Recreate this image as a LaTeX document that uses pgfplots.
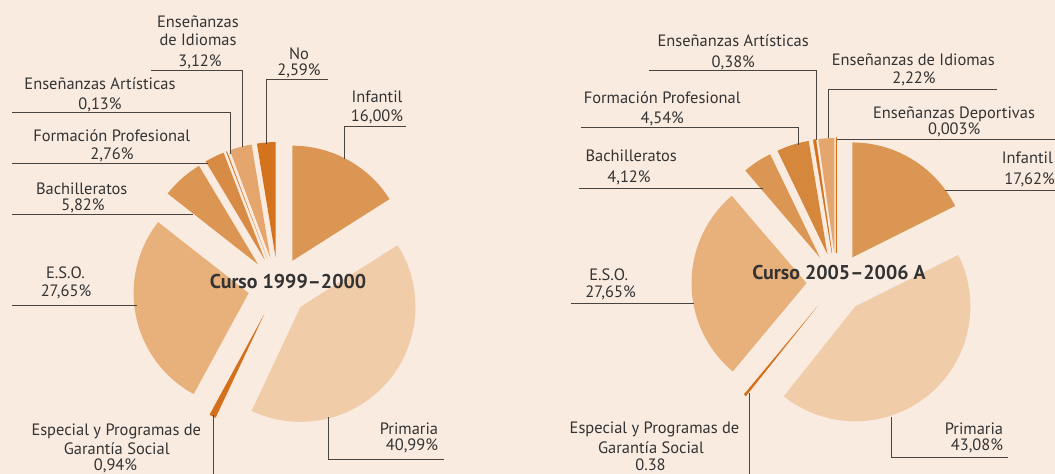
\documentclass[border=0pt]{standalone}
\usepackage{pgfplots}
\pgfplotsset{compat=1.18}
\usepackage{fontspec}
\setmainfont{PT Sans}
\definecolor{bg}{HTML}{FAEBE0}
\definecolor{cInf}{HTML}{DC9654}
\definecolor{cPri}{HTML}{F0CCA8}
\definecolor{cESO}{HTML}{E8B07B}
\definecolor{cEsp}{HTML}{D4701A}
\definecolor{cBach}{HTML}{DC9654}
\definecolor{cFP}{HTML}{D88B44}
\definecolor{cFPb}{HTML}{D5883C}
\definecolor{cArt}{HTML}{D4701A}
\definecolor{cIdi}{HTML}{E4A66C}
\definecolor{cNo}{HTML}{D4731C}
\definecolor{txt}{HTML}{333333}
\definecolor{lc}{HTML}{4A4440}
\def\R{115}\def\D{30}
\gdef\cum{90}
% \slice[extra]{cx}{cy}{percent}{colour}
\newcommand{\slice}[5][]{%
  \pgfmathsetmacro{\sa}{\cum}%
  \pgfmathsetmacro{\ea}{\cum-#4*3.6}%
  \pgfmathsetmacro{\ma}{(\sa+\ea)/2}%
  \pgfmathsetmacro{\ax}{#2+\D*cos(\ma)}%
  \pgfmathsetmacro{\ay}{#3+\D*sin(\ma)}%
  \xdef\cum{\ea}%
  \edef\doit{\noexpand\addplot[fill=#5,draw=none,domain=\ea:\sa,samples=60,#1] ({\ax+\R*cos(x)},{\ay+\R*sin(x)}) -- (\ax,\ay) -- cycle;}%
  \doit}
\newcommand{\lab}[3]{\node[anchor=base,inner sep=0pt,text=txt,font=\fontsize{16.5}{19}\selectfont] at (#1,#2) {#3};}
\newcommand{\rlab}[3]{\node[anchor=base east,inner sep=0pt,text=txt,font=\fontsize{16.5}{19}\selectfont] at (#1,#2) {#3};}
\begin{document}
\begin{tikzpicture}
\fill[bg] (0,0) rectangle (1055bp,474bp);
\begin{axis}[at={(0,0)},anchor=south west,
  width=1055bp,height=474bp,scale only axis,
  xmin=0,xmax=1055,ymin=0,ymax=474,
  hide axis,clip=false]
% ---- Curso 1999-2000 ----
\gdef\cum{90}
\slice{278}{187}{16.00}{cInf}
\slice{278}{187}{40.99}{cPri}
\slice{278}{187}{0.94}{cEsp}
\slice{278}{187}{27.65}{cESO}
\slice{278}{187}{5.82}{cBach}
\slice{278}{187}{2.76}{cFP}
\slice{278}{187}{0.13}{cArt}
\slice{278}{187}{3.12}{cIdi}
\slice{278}{187}{2.59}{cNo}
% ---- Curso 2005-2006 A ----
\gdef\cum{90}
\slice{836.5}{191}{17.62}{cInf}
\slice{836.5}{191}{43.08}{cPri}
\slice{836.5}{191}{0.38}{cEsp}
\slice{836.5}{191}{27.65}{cESO}
\slice{836.5}{191}{4.12}{cBach}
\slice{836.5}{191}{4.54}{cFPb}
\slice[draw=cArt,line width=0.3pt]{836.5}{191}{0.38}{cArt}
\slice{836.5}{191}{2.22}{cIdi}
\slice[draw=cArt,line width=1pt]{836.5}{191}{0.003}{cArt}
% leader lines left
\draw[lc,line width=1pt] (151,403.3) -- (242.7,403.3) -- (242.7,327);
\draw[lc,line width=1pt] (328,394) -- (266.7,394) -- (266.7,330);
\draw[lc,line width=1pt] (405.7,347.3) -- (344,347.3) -- (344,315);
\draw[lc,line width=1pt] (12,361.7) -- (230,361.7) -- (230,320);
\draw[lc,line width=1pt] (12,310) -- (208,310);
\draw[lc,line width=1pt] (12,259) -- (193,259);
\draw[lc,line width=1pt] (12,168.3) -- (136.7,168.3);
\draw[lc,line width=1pt] (213.3,59) -- (213.3,0);
\draw[lc,line width=1pt] (328.3,57) -- (328.3,15) -- (444,15);
% leader lines right
\draw[lc,line width=1pt] (649.3,403) -- (816.7,403) -- (816.7,334);
\draw[lc,line width=1pt] (996.7,384) -- (828.3,384) -- (828.3,336);
\draw[lc,line width=1pt] (837.3,334.7) -- (1055,334.7);
\draw[lc,line width=1pt] (580.7,346.7) -- (798.3,346.7) -- (798.3,329);
\draw[lc,line width=1pt] (579,285) -- (763,285);
\draw[lc,line width=1pt] (945,283.3) -- (1055,283.3);
\draw[lc,line width=1pt] (571,170) -- (694,170);
\draw[lc,line width=1pt] (749,80.7) -- (749,0);
\draw[lc,line width=1pt] (891.7,57.3) -- (891.7,16.5) -- (1007.7,16.5);
% titles
\node[text=txt,font=\bfseries\fontsize{20}{24}\selectfont] at (288,192) {Curso 1999--2000};
\node[text=txt,font=\bfseries\fontsize{20}{24}\selectfont] at (839,201) {Curso 2005--2006 A};
% labels left
\lab{198}{446}{Enseñanzas}
\lab{198}{428}{de Idiomas}
\lab{200}{407}{3,12\%}
\lab{299}{414}{No}
\lab{299}{398}{2,59\%}
\lab{377}{371}{Infantil}
\lab{377}{352}{16,00\%}
\lab{100}{384}{Enseñanzas Artísticas}
\lab{100}{364}{0,13\%}
\lab{111.7}{332}{Formación Profesional}
\lab{112}{314}{2,76\%}
\lab{81.7}{279}{Bachilleratos}
\lab{83}{263}{5,82\%}
\lab{65.5}{195}{E.S.O.}
\lab{66}{177}{27,65\%}
\lab{116.3}{38}{Especial y Programas de}
\lab{116.7}{20}{Garantía Social}
\lab{115.5}{3.5}{0,94\%}
\rlab{438.3}{39.7}{Primaria}
\rlab{438.3}{23.3}{40,99\%}
% labels right
\lab{733.2}{427}{Enseñanzas Artísticas}
\lab{733.3}{406.3}{0,38\%}
\lab{913.3}{408.7}{Enseñanzas de Idiomas}
\lab{914}{390.7}{2,22\%}
\lab{954}{355.3}{Enseñanzas Deportivas}
\lab{954.2}{339.7}{0,003\%}
\lab{662.2}{370.3}{Formación Profesional}
\lab{662.3}{350.7}{4,54\%}
\lab{631.2}{312}{Bachilleratos}
\lab{629}{291.3}{4,12\%}
\rlab{1053}{310.7}{Infantil}
\rlab{1055}{289}{17,62\%}
\lab{608.7}{193.7}{E.S.O.}
\lab{610.5}{176.3}{27,65\%}
\lab{654.5}{40}{Especial y Programas de}
\lab{651}{21}{Garantía Social}
\lab{650.5}{3.5}{0.38}
\rlab{1003.3}{39.7}{Primaria}
\rlab{1003.3}{23.3}{43,08\%}
\end{axis}
\pgfresetboundingbox
\path[use as bounding box] (0,0) rectangle (1055bp,474bp);
\end{tikzpicture}
\end{document}
